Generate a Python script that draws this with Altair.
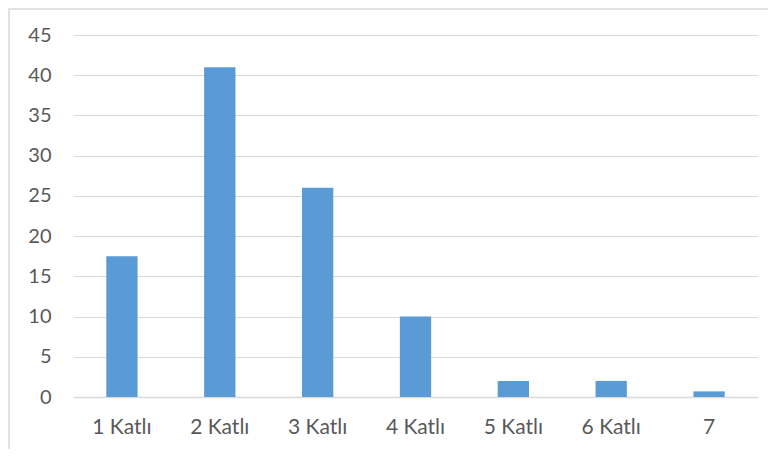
import altair as alt
import pandas as pd

categories = ["1 Katlı", "2 Katlı", "3 Katlı", "4  Katlı", "5  Katlı", "6  Katlı", "7"]
values = [17.5, 41, 26, 10, 2, 2, 0.7]

df = pd.DataFrame({"kat": categories, "deger": values})

W, H = 685, 362
FONT = "Lato"
GRAY = "#d9d9d9"

bars = alt.Chart(df).mark_bar(color="#5B9BD5").encode(
    x=alt.X("kat:N", sort=categories,
            scale=alt.Scale(paddingInner=0.68, paddingOuter=0.34),
            axis=alt.Axis(title=None, labelAngle=0, labelFont=FONT, labelFontSize=21,
                          labelColor="#595959", labelPadding=19, ticks=False,
                          domainColor=GRAY, domainWidth=1.5, grid=False)),
    y=alt.Y("deger:Q", scale=alt.Scale(domain=[0, 45], nice=False),
            axis=alt.Axis(title=None, values=list(range(0, 50, 5)), labelFont=FONT,
                          labelFontSize=20, labelColor="#595959", labelPadding=22,
                          ticks=False, domain=False, gridColor=GRAY, gridWidth=1.2)),
)

border = alt.Chart(pd.DataFrame({"a": [0]})).mark_rect(
    fill=None, stroke=GRAY, strokeWidth=1.5
).encode(
    x=alt.value(-64), x2=alt.value(W + 40),
    y=alt.value(-26), y2=alt.value(H + 70),
)

chart = alt.layer(bars, border).properties(
    width=W, height=H,
    autosize=alt.AutoSizeParams(type="none"),
    padding={"left": 65, "top": 27, "right": 10, "bottom": 52},
).configure_view(stroke=None)

chart.save("out.html", embed_options={"renderer": "svg", "actions": False})
